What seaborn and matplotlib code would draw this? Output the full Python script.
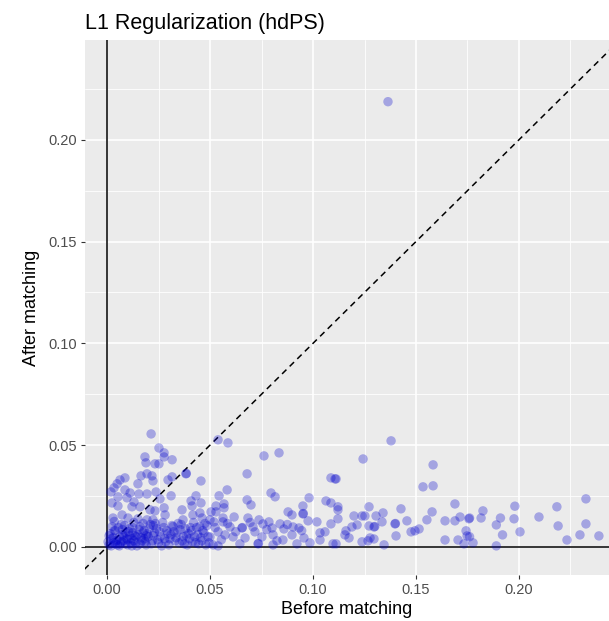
import matplotlib
matplotlib.use("Agg")
import matplotlib.pyplot as plt
import seaborn as sns
import pandas as pd

title = "L1 Regularization (hdPS)"
x_label = "Before matching"
y_label = "After matching"
tick_values = [0.00, 0.05, 0.10, 0.15, 0.20]
tick_labels = ["0.00", "0.05", "0.10", "0.15", "0.20"]

# (before, after) standardized differences
pts_far = [
    (0.176, 0.0142), (0.1816, 0.0142), (0.1825, 0.0177), (0.189, 0.0108), (0.191, 0.0142),
    (0.192, 0.0059), (0.189, 0.0005), (0.1777, 0.002), (0.176, 0.005), (0.198, 0.020),
    (0.1976, 0.0138), (0.2005, 0.0074), (0.2097, 0.0147), (0.2184, 0.0197), (0.219, 0.0103),
    (0.2233, 0.0034), (0.2296, 0.0059), (0.2325, 0.0236), (0.2325, 0.0113), (0.2388, 0.0054),
]
pts_mid = [
    (0.1364, 0.2187),
    (0.1379, 0.0521), (0.1243, 0.0432), (0.1112, 0.0334), (0.1583, 0.0403), (0.1534, 0.0295),
    (0.1583, 0.030), (0.1121, 0.0197), (0.1121, 0.0182), (0.1272, 0.0197), (0.134, 0.0167),
    (0.1199, 0.0152), (0.1238, 0.0152), (0.1252, 0.0152), (0.1306, 0.0152), (0.1427, 0.0187),
    (0.1335, 0.0123), (0.1456, 0.0128), (0.1553, 0.0133), (0.1578, 0.0172), (0.1641, 0.0128),
    (0.1689, 0.0211), (0.1689, 0.0128), (0.1714, 0.0147), (0.1757, 0.0138), (0.1214, 0.0108),
    (0.1189, 0.0098), (0.116, 0.0079), (0.1155, 0.0059), (0.1175, 0.0044), (0.1272, 0.0103),
    (0.1296, 0.0098), (0.1300, 0.0100), (0.1398, 0.0113), (0.1400, 0.0115), (0.1403, 0.0054),
    (0.1476, 0.0074), (0.1495, 0.0079), (0.1515, 0.0088), (0.1277, 0.0044), (0.1296, 0.0039),
    (0.1267, 0.003), (0.1238, 0.0025), (0.1112, 0.0015), (0.1345, 0.001), (0.1641, 0.0034),
    (0.1704, 0.0034), (0.1733, 0.0015), (0.1743, 0.0079), (0.1748, 0.0054),
]
pts_near = [
    (0.0539, 0.0526), (0.0587, 0.0511), (0.0762, 0.0447), (0.0835, 0.0462), (0.068, 0.0359),
    (0.1087, 0.0339), (0.1107, 0.0334), (0.0583, 0.028), (0.0544, 0.0251), (0.0796, 0.0265),
    (0.0816, 0.0246), (0.0981, 0.0241), (0.1063, 0.0226), (0.1087, 0.0216), (0.068, 0.0231),
    (0.0699, 0.0206), (0.0529, 0.0201), (0.0568, 0.0211), (0.0568, 0.0192), (0.0505, 0.0172),
    (0.0529, 0.0172), (0.0617, 0.0147), (0.0563, 0.0142), (0.0563, 0.0123), (0.0519, 0.0123),
    (0.0684, 0.0142), (0.0738, 0.0133), (0.0786, 0.0123), (0.0757, 0.0113), (0.084, 0.0113),
    (0.0879, 0.0172), (0.0898, 0.0157), (0.0951, 0.0201), (0.0951, 0.0162), (0.0953, 0.0164),
    (0.0976, 0.0128), (0.1019, 0.0123), (0.1087, 0.0113), (0.1121, 0.0138), (0.0655, 0.0093),
    (0.0657, 0.0095), (0.0597, 0.0098), (0.0709, 0.0098), (0.0718, 0.0074), (0.0801, 0.0093),
    (0.0806, 0.0059), (0.0859, 0.0088), (0.0903, 0.0098), (0.0932, 0.0093), (0.1034, 0.0069),
    (0.1058, 0.0074), (0.0539, 0.0074), (0.0573, 0.0059), (0.0612, 0.0049), (0.067, 0.0044),
    (0.0752, 0.0049), (0.0854, 0.0034), (0.0898, 0.0059), (0.0956, 0.0044), (0.0985, 0.002),
    (0.1034, 0.0034), (0.0733, 0.0015), (0.0735, 0.0017), (0.0806, 0.001), (0.0922, 0.0015),
    (0.0515, 0.001), (0.0539, 0.0005), (0.1097, 0.0015), (0.05, 0.0049),
    (0.0525, 0.0095), (0.0555, 0.0035), (0.0585, 0.0115), (0.0625, 0.0075), (0.0645, 0.0015),
    (0.0695, 0.0120), (0.0775, 0.0085), (0.0825, 0.0030), (0.0875, 0.0110), (0.0945, 0.0080),
]
pts_upper_left = [
    (0.0214, 0.0555), (0.0252, 0.0486), (0.0277, 0.0462), (0.0184, 0.0442), (0.0189, 0.0413),
    (0.0277, 0.0442), (0.0316, 0.0428), (0.0233, 0.0408), (0.0252, 0.0408), (0.0165, 0.0349),
    (0.0194, 0.0359), (0.0218, 0.0349), (0.0223, 0.0324), (0.0296, 0.0329), (0.0316, 0.0344),
    (0.0383, 0.0359), (0.0385, 0.0361), (0.0456, 0.0324), (0.0087, 0.0339), (0.0063, 0.0329),
    (0.0049, 0.031), (0.0034, 0.029), (0.0019, 0.027), (0.015, 0.031), (0.0087, 0.028),
    (0.0112, 0.0265), (0.0155, 0.026), (0.0194, 0.026), (0.0238, 0.027), (0.0257, 0.0236),
    (0.0311, 0.0251), (0.0432, 0.0251), (0.0408, 0.0226), (0.0456, 0.0216), (0.0053, 0.0246),
    (0.0097, 0.0241), (0.0131, 0.0221), (0.0024, 0.0216), (0.0053, 0.0201), (0.0121, 0.0197),
    (0.016, 0.0197), (0.0209, 0.0182), (0.0233, 0.0177), (0.0277, 0.0192), (0.0282, 0.0157),
    (0.0364, 0.0182), (0.0413, 0.0201), (0.0417, 0.0157), (0.0451, 0.0167), (0.0073, 0.0157),
    (0.0029, 0.0142), (0.0102, 0.0142), (0.015, 0.0138), (0.0194, 0.0133), (0.0223, 0.0133),
    (0.0369, 0.0133), (0.0461, 0.0142), (0.0500, 0.0133),
]
pts_dense = [
    (0.001, 0.001), (0.002, 0.004), (0.003, 0.002), (0.004, 0.008), (0.005, 0.001),
    (0.006, 0.005), (0.007, 0.011), (0.008, 0.003), (0.009, 0.007), (0.010, 0.001),
    (0.011, 0.009), (0.012, 0.004), (0.013, 0.012), (0.014, 0.002), (0.015, 0.006),
    (0.016, 0.010), (0.017, 0.003), (0.018, 0.008), (0.019, 0.001), (0.020, 0.005),
    (0.021, 0.011), (0.022, 0.003), (0.023, 0.007), (0.024, 0.009), (0.025, 0.002),
    (0.026, 0.005), (0.027, 0.012), (0.028, 0.004), (0.029, 0.008), (0.030, 0.001),
    (0.031, 0.006), (0.032, 0.010), (0.033, 0.003), (0.034, 0.007), (0.035, 0.002),
    (0.036, 0.011), (0.037, 0.005), (0.038, 0.009), (0.039, 0.001), (0.040, 0.004),
    (0.041, 0.008), (0.042, 0.012), (0.043, 0.002), (0.044, 0.006), (0.045, 0.010),
    (0.046, 0.003), (0.047, 0.007), (0.048, 0.001), (0.049, 0.005),
    (0.0015, 0.0065), (0.0025, 0.010), (0.0035, 0.0125), (0.0045, 0.003), (0.0055, 0.0095),
    (0.0065, 0.0015), (0.0075, 0.006), (0.0085, 0.0105), (0.0095, 0.004), (0.0105, 0.0075),
    (0.0115, 0.002), (0.0125, 0.0095), (0.0135, 0.0055), (0.0145, 0.0005), (0.0155, 0.0085),
    (0.0165, 0.0045), (0.0175, 0.0115), (0.0185, 0.0025), (0.0195, 0.0065), (0.0205, 0.009),
    (0.0215, 0.0015), (0.0225, 0.0055), (0.0235, 0.0115), (0.0245, 0.0035), (0.0255, 0.0075),
    (0.0265, 0.0005), (0.0275, 0.0095), (0.0285, 0.0025), (0.0295, 0.0065), (0.0315, 0.0105),
    (0.0335, 0.0045), (0.0355, 0.0085), (0.0375, 0.0015), (0.0395, 0.0065), (0.0415, 0.0025),
    (0.0435, 0.0095), (0.0455, 0.0045), (0.0475, 0.0115), (0.0495, 0.002),
    (0.0005, 0.0025), (0.001, 0.0055), (0.002, 0.0005), (0.003, 0.0045), (0.004, 0.0015),
    (0.005, 0.0035), (0.006, 0.0005), (0.007, 0.0025), (0.008, 0.0055), (0.009, 0.0015),
    (0.010, 0.0035), (0.011, 0.0055), (0.012, 0.0005), (0.013, 0.003), (0.014, 0.005),
    (0.016, 0.0015), (0.018, 0.004), (0.019, 0.0055),
    (0.0305, 0.0040), (0.0325, 0.0075), (0.0345, 0.0115), (0.0365, 0.0030), (0.0385, 0.0055),
    (0.0405, 0.0095), (0.0425, 0.0050), (0.0445, 0.0015), (0.0465, 0.0080), (0.0485, 0.0105),
    (0.0225, 0.0105), (0.0175, 0.0070), (0.0125, 0.0070), (0.0075, 0.0085), (0.0035, 0.0080),
]

all_pts = pts_far + pts_mid + pts_near + pts_upper_left + pts_dense
df = pd.DataFrame(all_pts, columns=["before", "after"])

sns.set_theme(style="darkgrid")
plt.rcParams["font.family"] = ["Liberation Sans", "DejaVu Sans"]

fig = plt.figure(figsize=(6.09, 6.21), dpi=100)
ax = fig.add_axes([85 / 609, 1 - 575 / 621, 1 - 85 / 609, (575 - 40) / 621])
ax.set_facecolor("#EBEBEB")

xlim = (-0.0107, 0.2437)
ylim = (-0.0138, 0.249)

# grid
for v in [-0.025, 0.025, 0.075, 0.125, 0.175, 0.225]:
    ax.axvline(v, color="white", lw=0.6, zorder=0)
for v in [0.025, 0.075, 0.125, 0.175, 0.225]:
    ax.axhline(v, color="white", lw=0.6, zorder=0)
for v in tick_values:
    ax.axvline(v, color="white", lw=1.2, zorder=0)
    ax.axhline(v, color="white", lw=1.2, zorder=0)
ax.grid(False)

ax.axvline(0, color="black", lw=1.1, zorder=1)
ax.axhline(0, color="black", lw=1.1, zorder=1)
ax.plot([-0.05, 0.3], [-0.05, 0.3], color="black", lw=1.1, ls=(0, (4, 3)), zorder=1)

sns.scatterplot(data=df, x="before", y="after", ax=ax, color="#0000CD",
                alpha=0.3, s=46, edgecolor="none", zorder=2)

ax.set_xlim(*xlim)
ax.set_ylim(*ylim)
ax.set_xticks(tick_values)
ax.set_xticklabels(tick_labels)
ax.set_yticks(tick_values)
ax.set_yticklabels(tick_labels)
ax.tick_params(axis="both", which="major", length=3, width=0.8, color="#333333",
               labelsize=10.5, labelcolor="#4D4D4D", pad=3, bottom=True, left=True)
for s in ax.spines.values():
    s.set_visible(False)

ax.set_xlabel(x_label, fontsize=13, color="black", labelpad=3)
ax.set_ylabel(y_label, fontsize=13, color="black", labelpad=6)
ax.set_title(title, loc="left", fontsize=15.5, color="black", pad=8)

fig.savefig("out.png", dpi=100)
